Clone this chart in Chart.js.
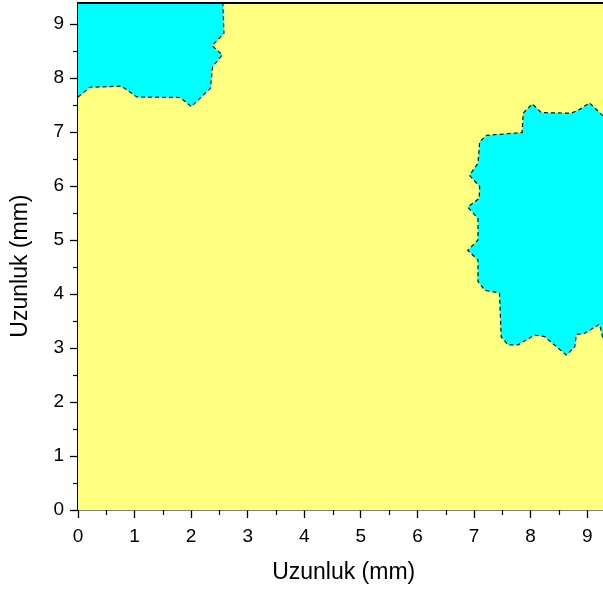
<!DOCTYPE html>
<html>
<head>
<meta charset="utf-8">
<script src="https://cdn.jsdelivr.net/npm/chart.js@4.4.0/dist/chart.umd.min.js"></script>
<style>
  html, body { margin: 0; padding: 0; background: #fff; }
  canvas { display: block; }
</style>
</head>
<body>
<canvas id="grafik" width="603" height="592"></canvas>
<script>
// eksen sinirlari (mm)
var xMin = 0, xMax = 9.28;
var yMin = 0, yMax = 9.39;

// sol ust bolge kontur cizgisi
var solUstX = [0, 0.21, 0.77, 1.04, 1.81, 2.0, 2.34, 2.38, 2.55, 2.37, 2.58, 2.56];
var solUstY = [7.65, 7.83, 7.85, 7.65, 7.64, 7.47, 7.81, 8.21, 8.43, 8.6, 8.83, 9.39];

// sag bolge kontur cizgisi
var sagX = [9.28, 9.04, 8.87, 8.72, 8.19, 8.03, 7.87, 7.85, 7.22, 7.10, 7.07, 6.92, 7.10, 7.09, 6.89, 7.07,
            7.07, 6.89, 7.07, 7.07, 7.19, 7.45, 7.48, 7.60, 7.78, 8.07, 8.25, 8.63, 8.78, 8.81, 8.95, 9.22, 9.27, 9.28];
var sagY = [7.30, 7.54, 7.42, 7.35, 7.36, 7.52, 7.35, 6.99, 6.94, 6.82, 6.42, 6.20, 5.99, 5.77, 5.61, 5.40,
            5.0, 4.81, 4.63, 4.23, 4.07, 4.02, 3.21, 3.06, 3.06, 3.24, 3.21, 2.87, 3.02, 3.25, 3.27, 3.44, 3.21, 3.15];

var sarı = 'rgb(255, 255, 128)';
var camgobegi = 'rgb(0, 255, 255)';
var yazıTipi = '"Liberation Sans", Arial, sans-serif';

function noktalar(xs, ys) {
    return xs.map(function (x, i) { return { x: x, y: ys[i] }; });
}

// dolgu icin kapali sekiller
var solUstSekil = noktalar(solUstX, solUstY).concat([{ x: xMin, y: yMax }]);
var sagSekil = noktalar(sagX, sagY);

var arkaPlan = {
    id: 'arkaPlan',
    beforeDatasetsDraw: function (chart) {
        var a = chart.chartArea, ctx = chart.ctx;
        ctx.save();
        ctx.fillStyle = sarı;
        ctx.fillRect(a.left, a.top, a.right - a.left, a.bottom - a.top);
        ctx.restore();
    },
    afterDraw: function (chart) {
        var a = chart.chartArea, ctx = chart.ctx;
        var xs = chart.scales.x, ys = chart.scales.y;
        ctx.save();
        ctx.strokeStyle = '#000';
        ctx.lineWidth = 1.2;
        // ara tikler
        for (var v = 0.5; v < xMax; v += 1) {
            var px = Math.round(xs.getPixelForValue(v)) + 0.5;
            ctx.beginPath();
            ctx.moveTo(px, a.bottom);
            ctx.lineTo(px, a.bottom + 5);
            ctx.stroke();
        }
        for (var w = 0.5; w < yMax; w += 1) {
            var py = Math.round(ys.getPixelForValue(w)) + 0.5;
            ctx.beginPath();
            ctx.moveTo(a.left, py);
            ctx.lineTo(a.left - 5, py);
            ctx.stroke();
        }
        // ust cerceve
        ctx.lineWidth = 2;
        ctx.beginPath();
        ctx.moveTo(a.left, a.top);
        ctx.lineTo(a.right, a.top);
        ctx.stroke();
        ctx.restore();
    }
};

var ctx = document.getElementById('grafik').getContext('2d');
var grafik = new Chart(ctx, {
    type: 'scatter',
    data: {
        datasets: [
            {
                data: noktalar(solUstX, solUstY),
                showLine: true,
                borderColor: '#111',
                borderWidth: 1.2,
                borderDash: [4, 3],
                pointRadius: 0,
                fill: false,
                order: 0
            },
            {
                data: noktalar(sagX, sagY),
                showLine: true,
                borderColor: '#111',
                borderWidth: 1.2,
                borderDash: [4, 3],
                pointRadius: 0,
                fill: false,
                order: 0
            },
            {
                data: solUstSekil,
                showLine: true,
                borderWidth: 0,
                borderColor: 'rgba(0,0,0,0)',
                backgroundColor: camgobegi,
                pointRadius: 0,
                fill: 'shape',
                order: 1
            },
            {
                data: sagSekil,
                showLine: true,
                borderWidth: 0,
                borderColor: 'rgba(0,0,0,0)',
                backgroundColor: camgobegi,
                pointRadius: 0,
                fill: 'shape',
                order: 1
            }
        ]
    },
    options: {
        responsive: false,
        animation: false,
        layout: { padding: { top: 3, left: 0, right: 0, bottom: 0 } },
        plugins: { legend: { display: false }, tooltip: { enabled: false } },
        scales: {
            x: {
                type: 'linear',
                min: xMin,
                max: xMax,
                afterFit: function (s) { s.height = 82; s.paddingLeft = 0; s.paddingRight = 0; },
                ticks: {
                    stepSize: 1,
                    includeBounds: false,
                    color: '#000',
                    padding: 7,
                    font: { family: yazıTipi, size: 19 },
                    callback: function (v) { return v; }
                },
                grid: { drawOnChartArea: false, drawTicks: true, tickLength: 8, tickColor: '#000', tickWidth: 1.3 },
                border: { display: true, color: '#000', width: 1.5 },
                title: {
                    display: true,
                    text: ' Uzunluk (mm)',
                    color: '#000',
                    font: { family: yazıTipi, size: 23 },
                    padding: { top: 0, bottom: 6 }
                }
            },
            y: {
                type: 'linear',
                min: yMin,
                max: yMax,
                afterFit: function (s) { s.width = 78; s.paddingTop = 0; s.paddingBottom = 0; },
                ticks: {
                    stepSize: 1,
                    includeBounds: false,
                    color: '#000',
                    padding: 6,
                    font: { family: yazıTipi, size: 19 },
                    callback: function (v) { return v; }
                },
                grid: { drawOnChartArea: false, drawTicks: true, tickLength: 8, tickColor: '#000', tickWidth: 1.3 },
                border: { display: true, color: '#000', width: 1.5 },
                title: {
                    display: true,
                    // sondaki bosluklar basligi eksen ortasindan biraz asagi kaydirir
                    text: 'Uzunluk (mm)   ',
                    color: '#000',
                    font: { family: yazıTipi, size: 23 },
                    padding: { top: 7, bottom: 0 }
                }
            }
        }
    },
    plugins: [arkaPlan]
});
</script>
</body>
</html>
